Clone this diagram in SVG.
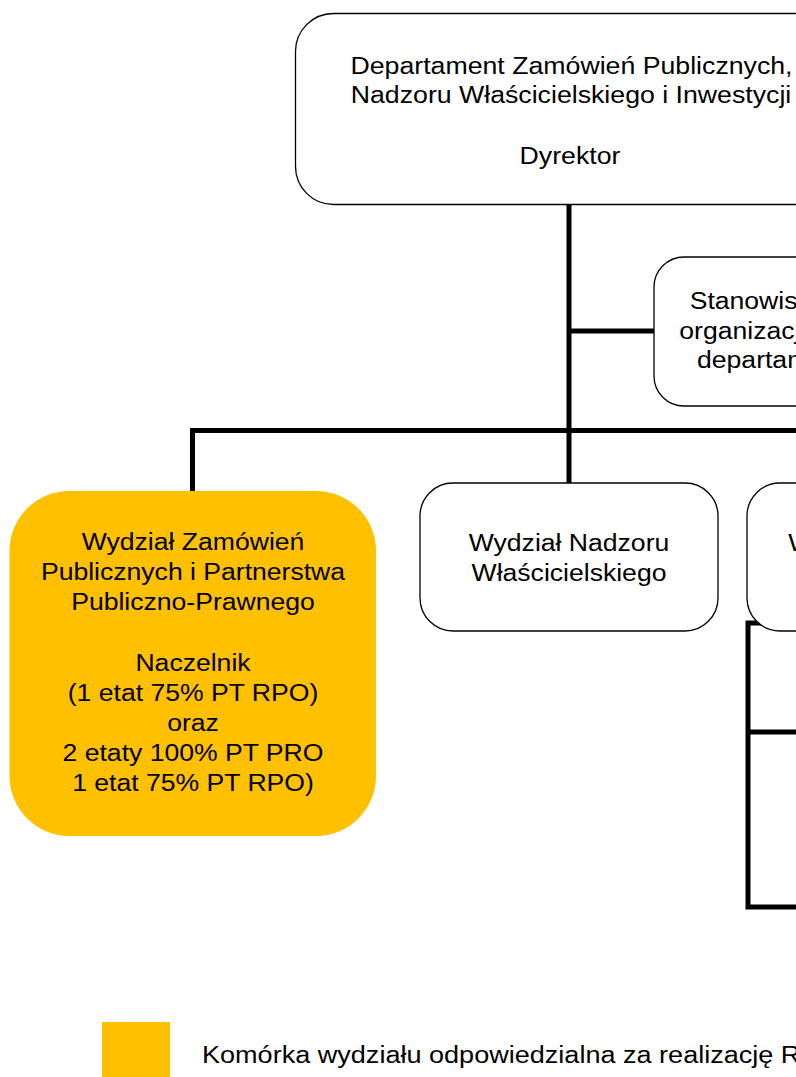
<svg xmlns="http://www.w3.org/2000/svg" width="796" height="1077" viewBox="0 0 796 1077">
<defs>
<style>
.box{fill:#fff;stroke:#000;stroke-width:1.3}
.hl{fill:#FFC000;stroke:none}
.conn{fill:none;stroke:#000;stroke-width:5;stroke-linejoin:miter;stroke-linecap:butt}
.t{font-family:"Liberation Sans",Arial,sans-serif;font-size:24.5px;fill:#000;text-anchor:middle}
.ts{font-family:"Liberation Sans",Arial,sans-serif;font-size:24.5px;fill:#000;text-anchor:start}
</style>
</defs>
<rect width="796" height="1077" fill="#fff"/>
<g id="connectors">
<path class="conn" d="M569 205 V483"/>
<path class="conn" d="M569 331 H656"/>
<path class="conn" d="M192.5 491 V430.5 H800"/>
<path class="conn" d="M800 623 H748 V907 H800"/>
<path class="conn" d="M748 732 H800"/>
</g>
<g id="dept">
<rect class="box" x="295.5" y="13.5" width="552" height="191" rx="38"/>
<text class="t" transform="translate(571.5,73.5) scale(1.09,1)">Departament Zamówień Publicznych,</text>
<text class="t" transform="translate(571,103) scale(1.09,1)">Nadzoru Właścicielskiego i Inwestycji</text>
<text class="t" transform="translate(570,164) scale(1.09,1)">Dyrektor</text>
</g>
<g id="stanowisko">
<rect class="box" x="654" y="257" width="246" height="149" rx="30"/>
<text class="t" transform="translate(779,309) scale(1.085,1)">Stanowisko ds.</text>
<text class="t" transform="translate(779,338.5) scale(1.085,1)">organizacji pracy</text>
<text class="t" transform="translate(779,368) scale(1.085,1)">departamentu</text>
</g>
<g id="wzp">
<rect class="hl" x="9.5" y="491" width="366.5" height="345" rx="60"/>
<text class="t" transform="translate(193,550) scale(1.085,1)">Wydział Zamówień</text>
<text class="t" transform="translate(193,580) scale(1.085,1)">Publicznych i Partnerstwa</text>
<text class="t" transform="translate(193,610) scale(1.085,1)">Publiczno-Prawnego</text>
<text class="t" transform="translate(193,670.5) scale(1.085,1)">Naczelnik</text>
<text class="t" transform="translate(193,701) scale(1.085,1)">(1 etat 75% PT RPO)</text>
<text class="t" transform="translate(193,731) scale(1.085,1)">oraz</text>
<text class="t" transform="translate(193,761) scale(1.085,1)">2 etaty 100% PT PRO</text>
<text class="t" transform="translate(193,790.5) scale(1.085,1)">1 etat 75% PT RPO)</text>
</g>
<g id="wnw">
<rect class="box" x="420" y="483" width="298" height="148" rx="33"/>
<text class="t" transform="translate(569,551) scale(1.085,1)">Wydział Nadzoru</text>
<text class="t" transform="translate(569,581) scale(1.085,1)">Właścicielskiego</text>
</g>
<g id="wi">
<rect class="box" x="747" y="483" width="298" height="148" rx="33"/>
<text class="t" transform="translate(896,551) scale(1.085,1)">Wydział Inwestycji</text>
</g>
<g id="legend">
<rect class="hl" x="102" y="1022" width="68" height="60"/>
<text class="ts" transform="translate(202,1063) scale(1.105,1)">Komórka wydziału odpowiedzialna za realizację RPO</text>
</g>
</svg>
